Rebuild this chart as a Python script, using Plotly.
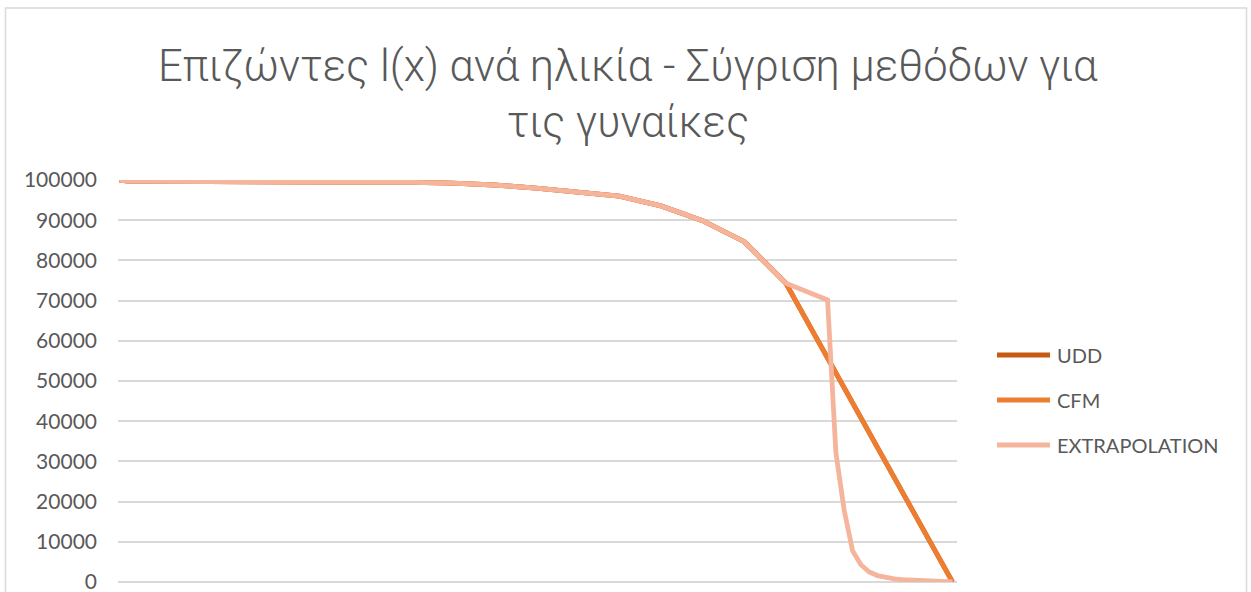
import plotly.graph_objects as go

# Ages at which the abridged life table gives l(x)
ages = [0, 1, 5, 10, 15, 20, 25, 30, 35, 40, 45, 50, 55, 60, 65, 70, 75, 80, 100]
udd = [100000, 99700, 99660, 99640, 99620, 99590, 99560, 99520, 99420, 99200,
       98750, 98000, 97000, 96000, 93550, 89880, 84650, 74300, 0]
cfm = [100000, 99700, 99660, 99640, 99620, 99590, 99560, 99520, 99420, 99200,
       98750, 98000, 97000, 96000, 93550, 89880, 84650, 74300, 0]

# Extrapolated tail uses single-year ages after 80
ages_ext = [0, 1, 5, 10, 15, 20, 25, 30, 35, 40, 45, 50, 55, 60, 65, 70, 75, 80,
            85, 86, 87, 88, 89, 90, 91, 92, 93, 94, 95, 96, 97, 98, 99, 100]
extrapolation = [100000, 99700, 99660, 99640, 99620, 99590, 99560, 99520, 99420, 99200,
                 98750, 98000, 97000, 96000, 93550, 89880, 84650, 74300,
                 70150, 32200, 17800, 7800, 4300, 2500, 1600, 1100, 800, 600,
                 480, 380, 300, 220, 150, 0]

series_names = ["UDD", "CFM", "EXTRAPOLATION"]
series_colors = ["#C55A11", "#ED7D31", "#F4B59C"]

y_ticks = list(range(0, 100001, 10000))
y_tick_labels = [str(v) for v in y_ticks]

title_lines = ["Επιζώντες l(x) ανά ηλικία - Σύγριση μεθόδων για", "τις γυναίκες"]

TEXT = "#595959"
GRID = "#D9D9D9"

fig = go.Figure()
for name, xs, ys, col in [
    (series_names[0], ages, udd, series_colors[0]),
    (series_names[1], ages, cfm, series_colors[1]),
    (series_names[2], ages_ext, extrapolation, series_colors[2]),
]:
    fig.add_trace(go.Scatter(
        x=xs, y=ys, name=name, mode="lines",
        line=dict(color=col, width=4.8),
        showlegend=False, hoverinfo="skip",
    ))

# plot-area geometry in pixels
L, R, T, B = 118, 957, 180, 582
W, H = R - L, B - T


def px(xp):
    return (xp - L) / W


def py(yp):
    return (B - yp) / H


shapes = [
    # chart frame
    dict(type="rect", xref="paper", yref="paper",
         x0=px(5.5), x1=px(1246.5), y0=py(600), y1=py(8),
         line=dict(color=GRID, width=1.5), fillcolor="rgba(0,0,0,0)", layer="below"),
]
annotations = []

# legend entries
legend_y = [355, 400, 445]
for name, col, ly in zip(series_names, series_colors, legend_y):
    shapes.append(dict(type="line", xref="paper", yref="paper",
                       x0=px(997), x1=px(1050), y0=py(ly), y1=py(ly),
                       line=dict(color=col, width=4.8)))
    annotations.append(dict(xref="paper", yref="paper", x=px(1055), y=py(ly),
                            text=name, showarrow=False, xanchor="left", yanchor="middle",
                            font=dict(family="Lato, Open Sans, sans-serif", size=20, color=TEXT)))

# title, two centred lines
for text, ty in zip(title_lines, [66, 123]):
    annotations.append(dict(xref="paper", yref="paper", x=px(627.5), y=py(ty),
                            text=text, showarrow=False, xanchor="center", yanchor="middle",
                            font=dict(family="Roboto, Open Sans, sans-serif", size=43.5,
                                      color=TEXT, weight=300)))

fig.update_layout(
    width=1251, height=592,
    margin=dict(l=L, r=1251 - R, t=T, b=592 - B, autoexpand=False),
    paper_bgcolor="white", plot_bgcolor="white",
    shapes=shapes, annotations=annotations,
    showlegend=False,
)
fig.update_xaxes(range=[-0.18, 100.54], showticklabels=False, showgrid=False,
                 zeroline=False, showline=False, ticks="", automargin=False)
fig.update_yaxes(range=[0, 100000], tickvals=y_ticks, ticktext=y_tick_labels,
                 showgrid=True, gridcolor=GRID, gridwidth=1.5,
                 zeroline=True, zerolinecolor=GRID, zerolinewidth=1.5,
                 showline=False, ticks="", ticklabelstandoff=20,
                 ticklabeloverflow="allow", automargin=False,
                 tickfont=dict(family="Lato, Open Sans, sans-serif", size=21, color=TEXT))

fig.write_html("out.html")
